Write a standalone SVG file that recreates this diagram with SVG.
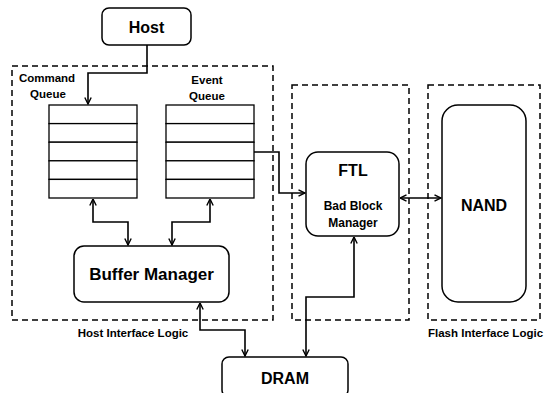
<svg xmlns="http://www.w3.org/2000/svg" width="544" height="393" viewBox="0 0 544 393">
<defs>
<style>
.box{fill:#fff;stroke:#000;stroke-width:1.5}
.dash{fill:none;stroke:#000;stroke-width:1.5;stroke-dasharray:6,4}
.q{fill:#fff;stroke:#000;stroke-width:1.3}
.c{fill:none;stroke:#000;stroke-width:1.6}
.t{font-family:"Liberation Sans",Arial,sans-serif;font-weight:bold;fill:#000;text-anchor:middle;dominant-baseline:central}
.big{font-size:16px}
.sm{font-size:11.5px}
</style>
<marker id="ah" viewBox="0 0 8 8" refX="7.5" refY="4" markerWidth="8" markerHeight="8" markerUnits="userSpaceOnUse" orient="auto-start-reverse">
<path d="M1,0.8 L7.5,4 L1,7.2" fill="none" stroke="#000" stroke-width="1.4"/>
</marker>
</defs>
<rect width="544" height="393" fill="#fff"/>

<g id="host-interface-logic">
<rect class="dash" x="12" y="66" width="261" height="254"/>
<text class="t sm" x="133" y="333">Host Interface Logic</text>
</g>
<g id="ftl-region">
<rect class="dash" x="292" y="85" width="117" height="235"/>
</g>
<g id="flash-interface-logic">
<rect class="dash" x="428" y="85" width="112" height="235"/>
<text class="t sm" x="428" y="333" style="text-anchor:start">Flash Interface Logic</text>
</g>

<g id="host">
<rect class="box" x="102" y="8" width="89" height="37" rx="7"/>
<text class="t big" x="146.5" y="27">Host</text>
</g>

<g id="command-queue">
<text class="t sm" x="47" y="78">Command</text>
<text class="t sm" x="48" y="94">Queue</text>
<rect class="q" x="49" y="105" width="88" height="18.6"/>
<rect class="q" x="49" y="123.6" width="88" height="18.6"/>
<rect class="q" x="49" y="142.2" width="88" height="18.6"/>
<rect class="q" x="49" y="160.8" width="88" height="18.6"/>
<rect class="q" x="49" y="179.4" width="88" height="18.6"/>
</g>

<g id="event-queue">
<text class="t sm" x="207" y="80">Event</text>
<text class="t sm" x="207" y="96">Queue</text>
<rect class="q" x="166" y="105" width="88" height="18.6"/>
<rect class="q" x="166" y="123.6" width="88" height="18.6"/>
<rect class="q" x="166" y="142.2" width="88" height="18.6"/>
<rect class="q" x="166" y="160.8" width="88" height="18.6"/>
<rect class="q" x="166" y="179.4" width="88" height="18.6"/>
</g>

<g id="buffer-manager">
<rect class="box" x="74" y="246" width="155" height="56" rx="10"/>
<text class="t" style="font-size:17px" x="151.5" y="274.5">Buffer Manager</text>
</g>

<g id="ftl">
<rect class="box" x="306" y="152" width="93" height="84" rx="12"/>
<text class="t big" x="353" y="170">FTL</text>
<text class="t" style="font-size:12px" x="353" y="206">Bad Block</text>
<text class="t" style="font-size:12px" x="353" y="223">Manager</text>
</g>

<g id="nand">
<rect class="box" x="442" y="105" width="84" height="197" rx="16"/>
<text class="t big" x="484" y="205">NAND</text>
</g>

<g id="dram">
<rect class="box" x="222" y="357" width="126" height="40" rx="7"/>
<text class="t big" x="285" y="378">DRAM</text>
</g>

<g id="connectors">
<polyline class="c" points="147,45 147,73 88,73 88,104" marker-end="url(#ah)"/>
<polyline class="c" points="254,152 279,152 279,193 305,193" marker-end="url(#ah)"/>
<line class="c" x1="400" y1="198" x2="441" y2="198" marker-start="url(#ah)" marker-end="url(#ah)"/>
<polyline class="c" points="93,199 93,222 128,222 128,245" marker-start="url(#ah)" marker-end="url(#ah)"/>
<polyline class="c" points="210,199 210,222 172,222 172,245" marker-start="url(#ah)" marker-end="url(#ah)"/>
<polyline class="c" points="200,303 200,330 245,330 245,356" marker-start="url(#ah)" marker-end="url(#ah)"/>
<polyline class="c" points="354,237 354,297 306,297 306,356" marker-start="url(#ah)" marker-end="url(#ah)"/>
</g>
</svg>
